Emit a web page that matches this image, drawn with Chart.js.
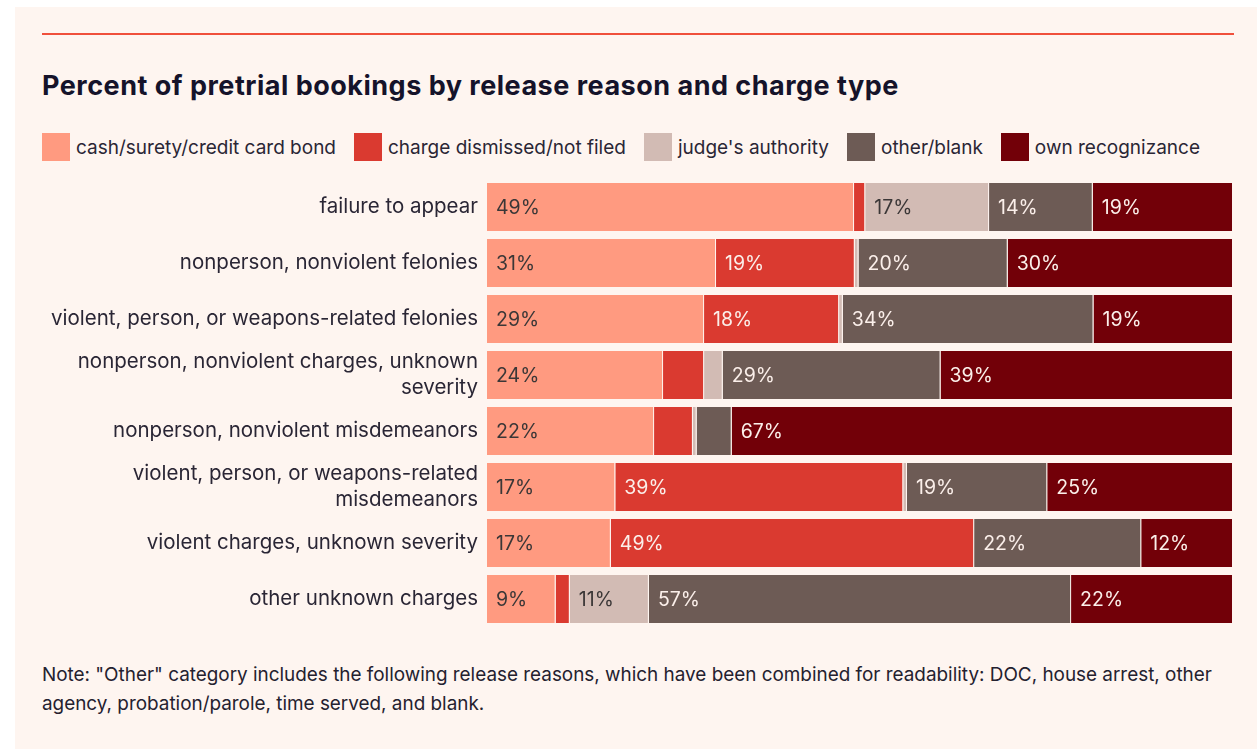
<!DOCTYPE html>
<html>
<head>
<meta charset="utf-8">
<script src="https://cdn.jsdelivr.net/npm/chart.js@4"></script>
<style>
  html, body { margin: 0; padding: 0; background: #ffffff; }
  body { width: 1257px; height: 749px; position: relative; overflow: hidden; font-family: Inter, "Noto Sans", sans-serif; color: #1d1a2b; }
  .panel { position: absolute; left: 15px; top: 7px; right: 0; bottom: 0; background: #fef5f0; }
  .rule { position: absolute; left: 42px; top: 33px; width: 1192px; height: 2px; background: #f0503c; }
  h1 { position: absolute; left: 42px; top: 68px; margin: 0; font-size: 27px; letter-spacing: 0.5px; font-weight: 700; line-height: 36px; color: #15132a; white-space: nowrap; }
  .legend { position: absolute; left: 42px; top: 133px; display: flex; align-items: center; font-size: 19px; color: #2a2635; }
  .legend span.item { display: flex; align-items: center; margin-right: 18px; }
  .legend i { display: inline-block; width: 28px; height: 28px; margin-right: 6px; }
  .note { position: absolute; left: 42px; top: 660px; width: 1210px; margin: 0; font-size: 18.9px; line-height: 29px; color: #24212f; white-space: nowrap; }
  #wrap { position: absolute; left: 0; top: 179px; width: 1257px; height: 448px; }
</style>
</head>
<body>
<div class="panel"></div>
<div class="rule"></div>
<h1>Percent of pretrial bookings by release reason and charge type</h1>
<div class="legend" id="legend"></div>
<div id="wrap"><canvas id="bars"></canvas></div>
<p class="note">Note: "Other" category includes the following release reasons, which have been combined for readability: DOC, house arrest, other<br>agency, probation/parole, time served, and blank.</p>
<script>
// charge types (top to bottom)
const chargeTypes = [
    "failure to appear",
    "nonperson, nonviolent felonies",
    "violent, person, or weapons-related felonies",
    ["nonperson, nonviolent charges, unknown", "severity"],
    "nonperson, nonviolent misdemeanors",
    ["violent, person, or weapons-related", "misdemeanors"],
    "violent charges, unknown severity",
    "other unknown charges"
];

// release reasons, percent of bookings per charge type
const cashBond      = [49.2, 30.7, 29.1, 23.6, 22.4, 17.2, 16.6, 9.2];
const chargeDismiss = [1.5, 18.6, 18.1, 5.5, 5.2, 38.6, 48.7, 1.9];
const judgeAuth     = [16.6, 0.5, 0.5, 2.5, 0.5, 0.5, 0, 10.6];
const otherBlank    = [13.9, 20.0, 33.6, 29.2, 4.7, 18.8, 22.4, 56.6];
const ownRecog      = [18.8, 30.2, 18.7, 39.2, 67.2, 24.9, 12.3, 21.7];

const seriesNames = ["cash/surety/credit card bond", "charge dismissed/not filed",
                     "judge's authority", "other/blank", "own recognizance"];
const seriesColors = ["#ff9a80", "#da3a30", "#d2bbb4", "#6d5b55", "#720008"];
// label colour for each series (dark text on light fills)
const textColors = ["#3b3737", "#fbefea", "#3b3737", "#fbefea", "#fbefea"];

const legendBox = document.getElementById("legend");
seriesNames.forEach(function (name, i) {
    const item = document.createElement("span");
    item.className = "item";
    item.innerHTML = '<i style="background:' + seriesColors[i] + '"></i>' + name;
    legendBox.appendChild(item);
});

// percent labels written inside the segments
const segmentLabels = {
    id: "segmentLabels",
    afterDatasetsDraw(chart) {
        const ctx = chart.ctx;
        ctx.save();
        ctx.font = "19.5px Inter, 'Noto Sans', sans-serif";
        ctx.textBaseline = "middle";
        ctx.textAlign = "left";
        chart.data.datasets.forEach(function (ds, di) {
            chart.getDatasetMeta(di).data.forEach(function (bar, i) {
                const v = ds.data[i];
                if (v < 8) return;
                ctx.fillStyle = textColors[di];
                ctx.fillText(Math.round(v) + "%", Math.min(bar.base, bar.x) + 9, bar.y + 1);
            });
        });
        ctx.restore();
    }
};

const data = [cashBond, chargeDismiss, judgeAuth, otherBlank, ownRecog];

new Chart(document.getElementById("bars"), {
    type: "bar",
    data: {
        labels: chargeTypes,
        datasets: seriesNames.map(function (name, i) {
            return {
                label: name,
                data: data[i],
                backgroundColor: seriesColors[i],
                borderColor: "rgba(254,245,240,0.45)",
                borderWidth: { right: 1 },
                borderSkipped: false,
                barPercentage: 0.857,
                categoryPercentage: 1
            };
        })
    },
    options: {
        indexAxis: "y",
        responsive: true,
        maintainAspectRatio: false,
        animation: false,
        layout: { padding: { left: 0, right: 24, top: 0, bottom: 0 } },
        plugins: {
            legend: { display: false },
            tooltip: { enabled: false }
        },
        scales: {
            x: {
                stacked: true,
                min: 0,
                max: 100,
                display: false
            },
            y: {
                stacked: true,
                grid: { display: false, drawTicks: false },
                border: { display: false },
                ticks: {
                    padding: 9,
                    color: "#2a2635",
                    font: { family: "Inter, 'Noto Sans', sans-serif", size: 20.5, lineHeight: 1.27 }
                },
                afterFit(scale) {
                    scale.width = 487;
                    scale.paddingTop = 0;
                    scale.paddingBottom = 0;
                }
            }
        }
    },
    plugins: [segmentLabels]
});
</script>
</body>
</html>
